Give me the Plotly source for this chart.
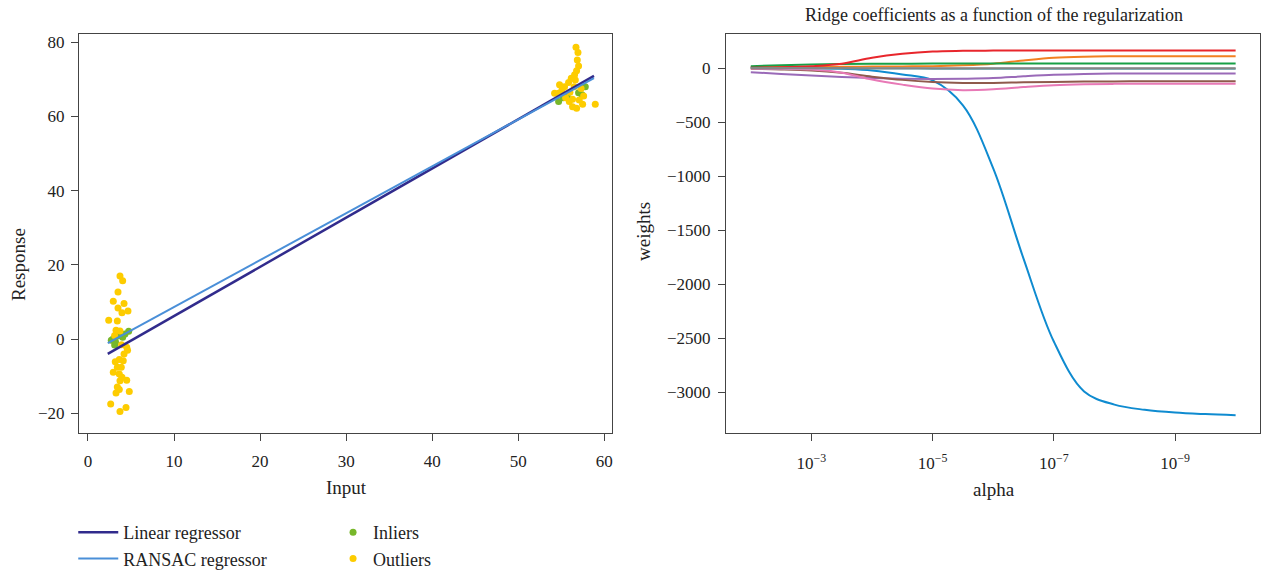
import plotly.graph_objects as go

# ---------------- Left panel data (RANSAC) ----------------
outlier_x = [3.72, 4.03, 3.49, 2.94, 4.19, 3.49, 3.95, 4.65, 2.41, 3.41, 3.26, 3.72,
             4.50, 4.19, 3.64, 3.17, 4.10, 3.41, 3.87, 2.94, 3.64, 3.95, 3.72, 4.50,
             3.41, 3.64, 3.26, 4.80, 2.64, 4.42, 3.72, 4.60, 3.90, 3.10,
             56.71, 56.94, 56.86, 57.01, 56.78, 56.55, 56.16, 56.63, 55.85, 55.38,
             55.08, 54.69, 54.22, 56.31, 57.09, 55.93, 56.31, 56.78, 57.48, 58.95,
             55.50, 56.00, 57.30, 54.80, 56.50, 57.60]
outlier_y = [17.0, 15.7, 12.7, 10.2, 9.6, 8.4, 7.1, 7.6, 5.1, 4.9, 2.4, 2.2,
             -2.2, -4.0, -5.5, -6.1, -5.8, -7.6, -7.6, -8.9, -9.4, -10.3, -11.2, -11.1,
             -12.9, -13.6, -14.5, -14.1, -17.5, -18.4, -19.5, -3.0, -1.5, 1.0,
             78.6, 77.2, 75.2, 73.6, 72.3, 71.2, 70.3, 69.8, 69.1, 68.0,
             67.1, 66.2, 66.2, 64.6, 64.4, 64.0, 62.6, 62.2, 63.3, 63.3,
             65.0, 66.5, 67.5, 68.5, 68.0, 65.5]
inlier_x = [2.94, 2.71, 3.64, 4.73, 3.10, 4.03, 3.37, 3.20, 4.30,
            54.69, 55.70, 57.01, 57.79, 57.41, 55.23]
inlier_y = [0.1, -0.3, 1.3, 2.1, -1.6, 0.5, 0.8, -0.8, 1.4,
            64.0, 65.3, 66.4, 68.0, 65.8, 65.0]
line_x = [2.3, 58.8]
linear_y = [-4.0, 70.9]
ransac_y = [-1.1, 70.3]

# ---------------- Right panel data (Ridge path) ----------------
alphas = [1e-2, 3.162e-3, 1e-3, 3.162e-4, 1e-4, 3.162e-5, 1e-5, 3.162e-6, 1e-6,
          3.162e-7, 1e-7, 3.162e-8, 1e-8, 3.162e-9, 1e-9, 3.162e-10, 1e-10]
coef_names = ["c0", "c1", "c2", "c3", "c4", "c5", "c6", "c7", "c8"]
coef_blue = [14, 10, 6, -3, -18, -55, -110, -340, -924, -1760, -2528, -2990, -3112, -3160, -3186, -3200, -3210]
coef_orange = [12, 14, 15, 16, 18, 20, 22, 30, 45, 75, 100, 110, 113, 114, 114, 114, 114]
coef_green = [22, 30, 38, 42, 44, 45, 46, 46, 46, 46, 46, 46, 46, 46, 46, 46, 46]
coef_red = [8, 12, 22, 44, 99, 136, 158, 164, 166, 167, 167, 167, 167, 167, 167, 167, 167]
coef_purple = [-34, -50, -65, -78, -88, -94, -96, -94, -88, -72, -58, -50, -47, -46, -46, -46, -46]
coef_brown = [-3, -8, -18, -40, -75, -105, -125, -133, -133, -128, -124, -121, -119, -118, -118, -118, -118]
coef_pink = [0, -3, -10, -38, -102, -149, -186, -200, -192, -172, -155, -146, -142, -140, -140, -140, -140]
coef_cyan = [4, 3, 2, 1, 0, 0, -1, -1, -1, -1, -1, -1, -1, -1, -1, -1, -1]
coef_gray = [6, 5, 4, 4, 3, 3, 3, 3, 3, 3, 3, 3, 3, 3, 3, 3, 3]
ridge_series = [coef_blue, coef_orange, coef_green, coef_red, coef_purple,
                coef_brown, coef_pink, coef_cyan, coef_gray]
ridge_colors = ["#0f8bd0", "#f28022", "#17a046", "#e8262c", "#9a6ab8",
                "#8f5a4c", "#e879b6", "#5fa3ad", "#858585"]

x_ticks_left = [0, 10, 20, 30, 40, 50, 60]
y_ticks_left = [-20, 0, 20, 40, 60, 80]
y_ticks_right = [0, -500, -1000, -1500, -2000, -2500, -3000]
x_ticks_right = [1e-3, 1e-5, 1e-7, 1e-9]
x_ticktext_right = ["10<sup>\u22123</sup>", "10<sup>\u22125</sup>", "10<sup>\u22127</sup>", "10<sup>\u22129</sup>"]

FONT = "Liberation Serif"
AX = "#444444"
TXT = "#222222"

fig = go.Figure()

fig.add_trace(go.Scatter(x=inlier_x, y=inlier_y, mode="markers", name="Inliers",
                         marker=dict(color="#77b72a", size=7), legend="legend2",
                         legendrank=1, xaxis="x", yaxis="y"))
fig.add_trace(go.Scatter(x=outlier_x, y=outlier_y, mode="markers", name="Outliers",
                         marker=dict(color="#fdcc00", size=7), legend="legend2",
                         legendrank=2, xaxis="x", yaxis="y"))
fig.add_trace(go.Scatter(x=line_x, y=linear_y, mode="lines", name="Linear regressor",
                         line=dict(color="#312b8c", width=2.5), legend="legend",
                         legendrank=1, xaxis="x", yaxis="y"))
fig.add_trace(go.Scatter(x=line_x, y=ransac_y, mode="lines", name="RANSAC regressor",
                         line=dict(color="#4a8fd8", width=2), legend="legend",
                         legendrank=2, xaxis="x", yaxis="y"))

for name, vals, col in zip(coef_names, ridge_series, ridge_colors):
    fig.add_trace(go.Scatter(x=alphas, y=vals, mode="lines", name=name,
                             line=dict(color=col, width=2, shape="spline", smoothing=1.0),
                             showlegend=False, xaxis="x2", yaxis="y2"))

axis_common = dict(showline=True, linecolor=AX, linewidth=1, mirror=True,
                   ticks="outside", ticklen=7, tickcolor=AX, showgrid=False,
                   zeroline=False, tickfont=dict(family=FONT, size=17, color=TXT))

fig.update_layout(
    width=1263, height=573,
    margin=dict(l=0, r=0, t=0, b=0, autoexpand=False),
    paper_bgcolor="white", plot_bgcolor="white",
    font=dict(family=FONT, size=17, color=TXT),
    xaxis=dict(domain=[0.0625, 0.4846], range=[-1.05, 60.9], tickvals=x_ticks_left,
               anchor="y", ticklabelstandoff=6, **axis_common),
    yaxis=dict(domain=[0.2443, 0.9407], range=[-25.3, 82.2], tickvals=y_ticks_left,
               anchor="x", ticklabelstandoff=3, **axis_common),
    xaxis2=dict(domain=[0.5748, 0.998], type="log", range=[-1.59, -10.41],
                tickvals=x_ticks_right, ticktext=x_ticktext_right, anchor="y2",
                ticklabelstandoff=8, **axis_common),
    yaxis2=dict(domain=[0.2443, 0.9407], range=[-3375, 320], tickvals=y_ticks_right,
                anchor="x2", ticklabelstandoff=4, **axis_common),
    legend=dict(x=0.058, y=0.103, xanchor="left", yanchor="top", orientation="v",
                font=dict(family=FONT, size=18, color=TXT), bgcolor="rgba(0,0,0,0)",
                itemwidth=40),
    legend2=dict(x=0.2637, y=0.103, xanchor="left", yanchor="top", orientation="v",
                 font=dict(family=FONT, size=18, color=TXT), bgcolor="rgba(0,0,0,0)",
                 itemwidth=30),
    annotations=[
        dict(text="Ridge coefficients as a function of the regularization", x=0.787, y=1 - 15 / 573,
             xref="paper", yref="paper", showarrow=False, xanchor="center", yanchor="middle",
             font=dict(family=FONT, size=18, color=TXT)),
        dict(text="Response", x=18 / 1263, y=1 - 265 / 573, xref="paper", yref="paper",
             showarrow=False, textangle=-90, xanchor="center", yanchor="middle",
             font=dict(family=FONT, size=19, color=TXT)),
        dict(text="Input", x=346 / 1263, y=1 - 487 / 573, xref="paper", yref="paper",
             showarrow=False, xanchor="center", yanchor="middle",
             font=dict(family=FONT, size=19, color=TXT)),
        dict(text="weights", x=643 / 1263, y=1 - 232 / 573, xref="paper", yref="paper",
             showarrow=False, textangle=-90, xanchor="center", yanchor="middle",
             font=dict(family=FONT, size=19, color=TXT)),
        dict(text="alpha", x=994 / 1263, y=1 - 489 / 573, xref="paper", yref="paper",
             showarrow=False, xanchor="center", yanchor="middle",
             font=dict(family=FONT, size=19, color=TXT)),
    ],
)

fig.write_html("out.html")
